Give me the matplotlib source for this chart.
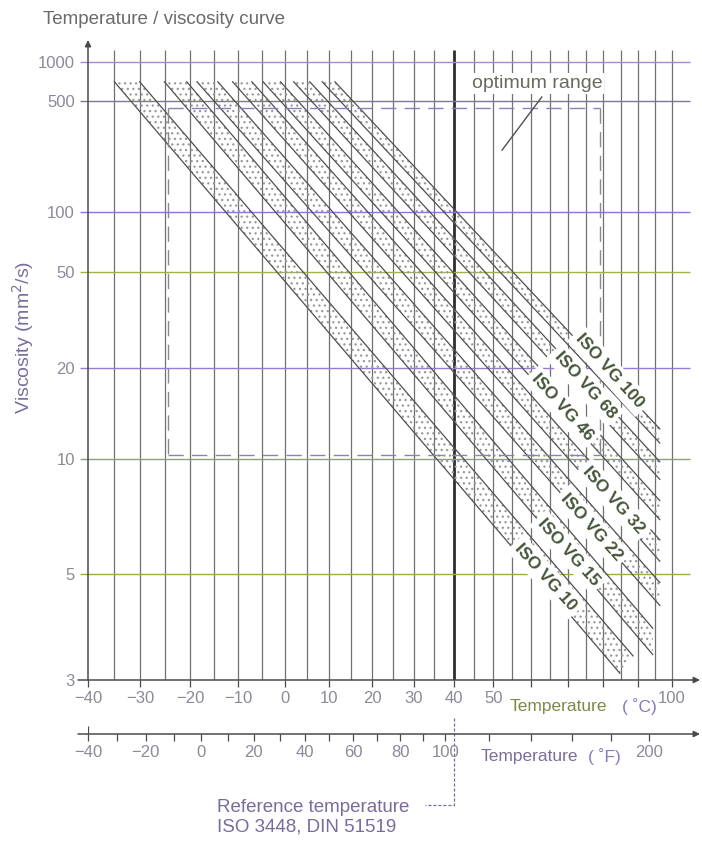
import numpy as np
import matplotlib
matplotlib.use("Agg")
import matplotlib.pyplot as plt
from matplotlib.patches import Polygon
from matplotlib.ticker import NullLocator
from matplotlib.transforms import blended_transform_factory

plt.rcParams['font.family'] = ['Liberation Sans', 'DejaVu Sans']
plt.rcParams['hatch.linewidth'] = 0.9

# ---------------- data ----------------
visc_ticks = [3, 5, 10, 20, 50, 100, 500, 1000]
visc_labels = ['3', '5', '10', '20', '50', '100', '500', '1000']
visc_grid = [5, 10, 20, 50, 100, 500, 1000]
visc_grid_colors = ['#9cae3c', '#8fa848', '#9a7ad6', '#a6b04a', '#8c74d2', '#7c6ed0', '#a08ad0']

temp_c_ticks = [-40, -30, -20, -10, 0, 10, 20, 30, 40, 50, 60, 70, 80, 90, 100]
temp_c_labels = ['−40', '−30', '−20', '−10', '0', '10', '20', '30', '40', '50', '', '', '', '', '100']
grid_temps = [-35, -30, -25, -20, -15, -10, -5, 0, 5, 10, 15, 20, 25, 30, 35,
              45, 50, 55, 60, 65, 70, 75, 80, 85, 90, 95, 100]
ref_temp = 40

temp_f_major = [-40, -20, 0, 20, 40, 60, 80, 100, 200]
temp_f_major_labels = ['−40', '−20', '0', '20', '40', '60', '80', '100', '200']
temp_f_minor = [-30, -10, 10, 30, 50, 70, 90, 120, 140, 160, 180]

grades = ['ISO VG 10', 'ISO VG 15', 'ISO VG 22', 'ISO VG 32', 'ISO VG 46', 'ISO VG 68', 'ISO VG 100']
# band corners (temperature °C, viscosity mm²/s)
band_top_visc = [700, 700, 700, 700, 700, 700, 700]
band_top_t_low = [-35.0, -25.2, -18.6, -11.2, -4.7, 2.0, 8.4]
band_top_t_high = [-30.1, -20.7, -14.3, -7.1, -0.9, 5.6, 11.3]
band_end_t_low = [84.7, 94.3, 96.4, 96.4, 96.4, 96.4, 96.4]
band_end_v_low = [3.09, 3.36, 4.25, 5.36, 6.80, 8.75, 11.2]
band_end_t_high = [88.5, 94.3, 96.4, 96.4, 96.4, 96.4, 96.4]
band_end_v_high = [3.34, 3.80, 4.78, 6.04, 7.64, 9.84, 12.4]

label_t = [64.0, 70.3, 76.7, 83.0, 68.4, 74.8, 81.8]
label_v = [4.92, 5.64, 6.51, 7.67, 14.6, 17.4, 19.5]

opt_t = [-24.5, 79.0]
opt_v = [10.3, 450]
opt_text_pos = (61.6, 684)
opt_leader_t = [62.9, 52.3]
opt_leader_v = [538, 232]

# ---------------- scales ----------------
def fwd_x(t):
    return np.log10(np.asarray(t, float) + 273.15)

def inv_x(u):
    return 10 ** np.asarray(u, float) - 273.15

def fwd_y(v):
    v = np.asarray(v, float)
    with np.errstate(all='ignore'):
        return np.log10(np.log10(v + 0.7))

def inv_y(w):
    return 10 ** (10 ** np.asarray(w, float)) - 0.7

def fwd_f(f):
    return np.log10((np.asarray(f, float) - 32) * 5 / 9 + 273.15)

def inv_f(u):
    return (10 ** np.asarray(u, float) - 273.15) * 9 / 5 + 32

W, H = 702, 844
fig = plt.figure(figsize=(W / 100, H / 100), dpi=100)
fig.patch.set_facecolor('white')
ax = fig.add_axes([88 / W, 1 - 680 / H, 602 / W, 640 / H])
ax.set_xscale('function', functions=(fwd_x, inv_x))
ax.set_yscale('function', functions=(fwd_y, inv_y))
ax.set_xlim(-40, 105.5)
ax.set_ylim(3, 1528)
ax.set_autoscale_on(False)
for s in ax.spines.values():
    s.set_visible(False)
ax.patch.set_visible(False)

tick_color = '#8a8a98'
line_color = '#4a4a4a'

# grid lines
ax.vlines(grid_temps, 3, 1250, colors='#707070', lw=0.9, zorder=1)
ax.vlines([ref_temp], 3, 1250, colors='#2e2e2e', lw=2.0, zorder=1)
ax.hlines(visc_grid, -41.5, 105.5, colors=visc_grid_colors, lw=1.0, zorder=1, clip_on=False)

# axes arrows
ax.annotate('', xy=(0, 1), xytext=(0, 0), xycoords='axes fraction',
            arrowprops=dict(arrowstyle='-|>', color=line_color, lw=1.1,
                            shrinkA=0, shrinkB=0, mutation_scale=9), annotation_clip=False)
ax.annotate('', xy=(1.0166, 0), xytext=(-0.0166, 0), xycoords='axes fraction',
            arrowprops=dict(arrowstyle='-|>', color=line_color, lw=1.1,
                            shrinkA=0, shrinkB=0, mutation_scale=9), annotation_clip=False)

# ticks
ax.set_yticks(visc_ticks, labels=visc_labels)
ax.yaxis.set_minor_locator(NullLocator())
ax.tick_params(axis='y', length=0, pad=9.5, labelsize=12, labelcolor=tick_color)
ax.set_xticks(temp_c_ticks, labels=temp_c_labels)
ax.xaxis.set_minor_locator(NullLocator())
ax.tick_params(axis='x', direction='out', length=5, width=0.9, color=line_color,
               pad=3, labelsize=12, labelcolor=tick_color)

# bands
for i in range(len(grades)):
    corners = [(band_top_t_low[i], band_top_visc[i]),
               (band_top_t_high[i], band_top_visc[i]),
               (band_end_t_high[i], band_end_v_high[i]),
               (band_end_t_low[i], band_end_v_low[i])]
    poly = Polygon(corners, closed=True, facecolor='none', edgecolor='#9a9a9a',
                   lw=0, hatch='...', zorder=2)
    ax.add_patch(poly)
    ax.plot([band_top_t_low[i], band_end_t_low[i]], [band_top_visc[i], band_end_v_low[i]],
            color='#505050', lw=0.9, zorder=3)
    ax.plot([band_top_t_high[i], band_end_t_high[i]], [band_top_visc[i], band_end_v_high[i]],
            color='#505050', lw=0.9, zorder=3)

# grade labels
for i, g in enumerate(grades):
    ax.text(label_t[i], label_v[i], g, rotation=-48, rotation_mode='anchor',
            ha='center', va='center', fontsize=12.5, fontweight='bold', color='#46553a',
            zorder=6, bbox=dict(boxstyle='square,pad=0.25', fc='white', ec='none'))

# optimum range (dashed)
dash = (0, (11, 6))
opt_color = '#8a80b8'
ax.plot([opt_t[0], opt_t[1]], [opt_v[1], opt_v[1]], ls=dash, color=opt_color, lw=1.0, zorder=4)
ax.plot([opt_t[0], opt_t[0]], [opt_v[1], opt_v[0]], ls=dash, color='#8a8a8a', lw=1.0, zorder=4)
ax.plot([opt_t[0], opt_t[1]], [opt_v[0], opt_v[0]], ls=dash, color=opt_color, lw=1.0, zorder=4)
ax.plot([opt_t[1], opt_t[1]], [opt_v[1], opt_v[0]], ls=dash, color='#8a8a8a', lw=1.0, zorder=4)
ax.text(opt_text_pos[0], opt_text_pos[1], 'optimum range', ha='center', va='center',
        fontsize=14, color='#6a6a5e', zorder=6,
        bbox=dict(boxstyle='square,pad=0.1', fc='white', ec='none'))
ax.plot(opt_leader_t, opt_leader_v, color='#505050', lw=1.0, zorder=6)

# °C axis label
xlab = blended_transform_factory(ax.transData, ax.transAxes)
ax.text(54.4, -0.041, 'Temperature', transform=xlab, ha='left', va='center',
        fontsize=12.5, color='#7c8a44', zorder=6)
ax.text(85.3, -0.041, '( ˚C)', transform=xlab, ha='left', va='center',
        fontsize=12.5, color='#8a78b8', zorder=6)

# °F axis
axF = fig.add_axes([88 / W, 1 - 734 / H, 602 / W, 8 / H])
axF.set_xscale('function', functions=(fwd_f, inv_f))
axF.set_xlim(-40, 221.9)
axF.set_ylim(0, 1)
axF.patch.set_visible(False)
for s in axF.spines.values():
    s.set_visible(False)
axF.set_yticks([])
axF.set_xticks(temp_f_major, labels=temp_f_major_labels)
axF.set_xticks(temp_f_minor, minor=True)
axF.tick_params(axis='x', which='both', direction='out', length=5, width=0.9,
                color=line_color, pad=3, labelsize=12, labelcolor=tick_color)
axF.vlines([temp_f_major[0]], 0, 1, colors=line_color, lw=0.9)
axF.annotate('', xy=(1.0166, 0), xytext=(-0.0166, 0), xycoords='axes fraction',
             arrowprops=dict(arrowstyle='-|>', color=line_color, lw=1.1,
                             shrinkA=0, shrinkB=0, mutation_scale=9), annotation_clip=False)
flab = blended_transform_factory(axF.transData, fig.transFigure)
axF.text(116, 1 - 757 / H, 'Temperature', transform=flab, ha='left', va='center',
         fontsize=12.5, color='#7a6e9a')
axF.text(168, 1 - 757 / H, '( ˚F)', transform=flab, ha='left', va='center',
         fontsize=12.5, color='#8a78b8')

# reference temperature
ref_tr = blended_transform_factory(ax.transData, fig.transFigure)
ax.plot([ref_temp, ref_temp, 32.7], [1 - 718 / H, 1 - 805 / H, 1 - 805 / H],
        transform=ref_tr, ls=(0, (2.5, 1.5)), color='#7a6aa0', lw=0.9, clip_on=False)
fig.text(217 / W, 1 - 808 / H, 'Reference temperature', ha='left', va='center',
         fontsize=13.5, color='#7a6a9e')
fig.text(217 / W, 1 - 827 / H, 'ISO 3448, DIN 51519', ha='left', va='center',
         fontsize=13.5, color='#7a6a9e')

# titles
fig.text(43 / W, 1 - 19 / H, 'Temperature / viscosity curve', ha='left', va='center',
         fontsize=13.5, color='#6a6a6a')
fig.text(23 / W, 1 - 337 / H, 'Viscosity (mm$^2$/s)', ha='center', va='center',
         rotation=90, fontsize=14, color='#7a6e9e')

fig.savefig('out.png', dpi=100, facecolor='white')
